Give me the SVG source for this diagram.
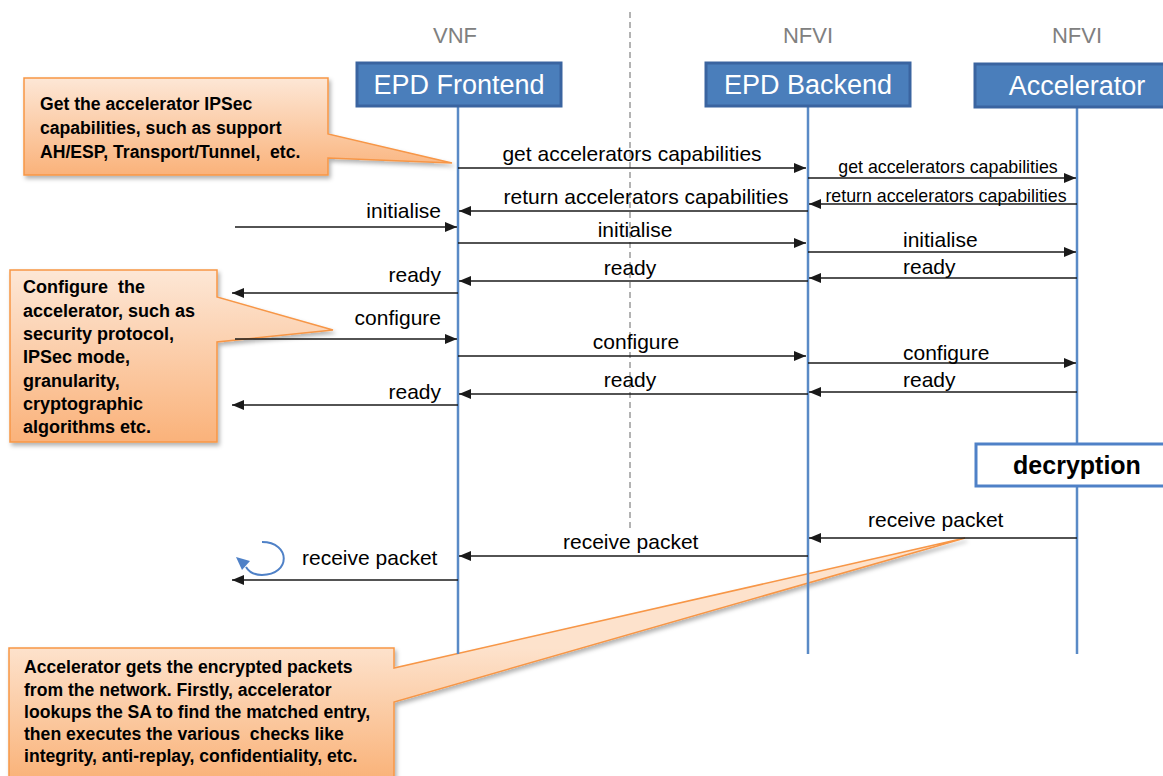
<svg xmlns="http://www.w3.org/2000/svg" width="1163" height="776" viewBox="0 0 1163 776">
  <defs>
    <style>
      .actor { fill: #4a7ebb; stroke: #3a64a0; stroke-width: 3; }
      .actor-label { font-family: "Liberation Sans", Arial, sans-serif; font-size: 27px; fill: #ffffff; text-anchor: middle; }
      .domain { font-family: "Liberation Sans", Arial, sans-serif; font-size: 22px; fill: #808080; text-anchor: middle; }
      .lifeline { stroke: #5a8ac6; stroke-width: 2.5; fill: none; }
      .msg { stroke: #1a1a1a; stroke-width: 1.6; fill: none; marker-end: url(#arrow); }
      .lbl { font-family: "Liberation Sans", Arial, sans-serif; font-size: 21px; fill: #000000; }
      .lbl-s { font-family: "Liberation Sans", Arial, sans-serif; font-size: 17.8px; fill: #000000; }
      .mid { text-anchor: middle; }
      .end { text-anchor: end; }
      .note { stroke: #f79646; stroke-width: 1.5; filter: url(#shadow); }
      .note-text { font-family: "Liberation Sans", Arial, sans-serif; font-size: 17.6px; font-weight: bold; fill: #000000; white-space: pre; }
      .note-text-l { font-family: "Liberation Sans", Arial, sans-serif; font-size: 18px; font-weight: bold; fill: #000000; white-space: pre; }
    </style>
    <marker id="arrow" viewBox="0 0 12 10" refX="12" refY="5" markerWidth="12" markerHeight="10" markerUnits="userSpaceOnUse" orient="auto">
      <path d="M0,0 L12,5 L0,10 Z" fill="#1a1a1a"/>
    </marker>
    <linearGradient id="noteFill" x1="0" y1="0" x2="0" y2="1">
      <stop offset="0" stop-color="#fde7d6"/>
      <stop offset="1" stop-color="#fab27a"/>
    </linearGradient>
    <linearGradient id="noteFill3" gradientUnits="userSpaceOnUse" x1="0" y1="648" x2="0" y2="800">
      <stop offset="0" stop-color="#fde2cc"/>
      <stop offset="1" stop-color="#f9ab6c"/>
    </linearGradient>
    <filter id="shadow" x="-10%" y="-10%" width="130%" height="130%">
      <feDropShadow dx="2" dy="3" stdDeviation="2" flood-color="#000000" flood-opacity="0.3"/>
    </filter>
  </defs>

  <rect x="0" y="0" width="1163" height="776" fill="#ffffff"/>

  <!-- VNF / NFVI boundary -->
  <line x1="630" y1="12" x2="630" y2="530" stroke="#9a9a9a" stroke-width="1.5" stroke-dasharray="6,4"/>

  <!-- domain captions -->
  <text class="domain" x="455" y="43">VNF</text>
  <text class="domain" x="808" y="43">NFVI</text>
  <text class="domain" x="1077" y="43">NFVI</text>

  <!-- callout notes -->
  <g id="note-capabilities">
    <path class="note" fill="url(#noteFill)" d="M24,78 H328 V134 L452,163 L328,158 V175 H24 Z"/>
    <text class="note-text" x="40" y="110">Get the accelerator IPSec</text>
    <text class="note-text" x="40" y="134">capabilities, such as support</text>
    <text class="note-text" x="40" y="158">AH/ESP, Transport/Tunnel,  etc.</text>
  </g>
  <g id="note-configure">
    <path class="note" fill="url(#noteFill)" d="M10,270 H217 V297 L333,330 L217,342 V442 H10 Z"/>
    <text class="note-text-l" x="23" y="293">Configure  the</text>
    <text class="note-text-l" x="23" y="317">accelerator, such as</text>
    <text class="note-text-l" x="23" y="340">security protocol,</text>
    <text class="note-text-l" x="23" y="363">IPSec mode,</text>
    <text class="note-text-l" x="23" y="387">granularity,</text>
    <text class="note-text-l" x="23" y="410">cryptographic</text>
    <text class="note-text-l" x="23" y="433">algorithms etc.</text>
  </g>
  <g id="note-decrypt">
    <path class="note" fill="url(#noteFill3)" d="M9,648 H394 V668 L965,538 L394,702 V790 H9 Z"/>
    <text class="note-text" x="24" y="673">Accelerator gets the encrypted packets</text>
    <text class="note-text" x="24" y="696">from the network. Firstly, accelerator</text>
    <text class="note-text" x="24" y="718">lookups the SA to find the matched entry,</text>
    <text class="note-text" x="24" y="740">then executes the various  checks like</text>
    <text class="note-text" x="24" y="762">integrity, anti-replay, confidentiality, etc.</text>
  </g>

  <!-- participants with lifelines -->
  <g id="epd-frontend">
    <line class="lifeline" x1="458" y1="106" x2="458" y2="654"/>
    <rect class="actor" x="357" y="63" width="204" height="43"/>
    <text class="actor-label" x="459" y="94">EPD Frontend</text>
  </g>
  <g id="epd-backend">
    <line class="lifeline" x1="808" y1="106" x2="808" y2="654"/>
    <rect class="actor" x="706" y="63" width="204" height="43"/>
    <text class="actor-label" x="808" y="94">EPD Backend</text>
  </g>
  <g id="accelerator">
    <line class="lifeline" x1="1077" y1="107" x2="1077" y2="654"/>
    <rect class="actor" x="975" y="64" width="195" height="43"/>
    <text class="actor-label" x="1077" y="95">Accelerator</text>
  </g>
  <g id="decryption">
    <rect x="976" y="444" width="195" height="42" fill="#ffffff" stroke="#4f81c7" stroke-width="3"/>
    <text x="1077" y="474" font-family="'Liberation Sans', Arial, sans-serif" font-size="25" font-weight="bold" fill="#000000" text-anchor="middle">decryption</text>
  </g>

  <!-- messages -->
  <g id="connectors">
    <line class="msg" x1="458" y1="168" x2="806" y2="168"/>
    <line class="msg" x1="808" y1="178" x2="1076" y2="178"/>
    <line class="msg" x1="1077" y1="204" x2="809" y2="204"/>
    <line class="msg" x1="808" y1="211" x2="459" y2="211"/>
    <line class="msg" x1="235" y1="227" x2="457" y2="227"/>
    <line class="msg" x1="458" y1="243" x2="806" y2="243"/>
    <line class="msg" x1="808" y1="252" x2="1076" y2="252"/>
    <line class="msg" x1="1077" y1="278" x2="809" y2="278"/>
    <line class="msg" x1="808" y1="281" x2="459" y2="281"/>
    <line class="msg" x1="458" y1="293" x2="232" y2="293"/>
    <line class="msg" x1="235" y1="339" x2="457" y2="339"/>
    <line class="msg" x1="458" y1="356" x2="806" y2="356"/>
    <line class="msg" x1="808" y1="363" x2="1076" y2="363"/>
    <line class="msg" x1="1077" y1="392" x2="809" y2="392"/>
    <line class="msg" x1="808" y1="394" x2="459" y2="394"/>
    <line class="msg" x1="458" y1="405" x2="232" y2="405"/>
    <line class="msg" x1="1077" y1="538" x2="809" y2="538"/>
    <line class="msg" x1="808" y1="556" x2="459" y2="556"/>
    <line class="msg" x1="458" y1="580" x2="232" y2="580"/>

    <!-- local packet handling loop -->
    <path d="M262,542 C291,542 291,575 262,575 C255,575 249,572 246,567" fill="none" stroke="#4f81c7" stroke-width="2"/>
    <polygon points="236,557 250,561 242,570" fill="#4f81c7"/>

    <text class="lbl mid" x="632" y="161">get accelerators capabilities</text>
    <text class="lbl-s mid" x="948" y="173">get accelerators capabilities</text>
    <text class="lbl-s mid" x="946" y="202">return accelerators capabilities</text>
    <text class="lbl mid" x="646" y="204">return accelerators capabilities</text>
    <text class="lbl end" x="441" y="218">initialise</text>
    <text class="lbl mid" x="635" y="237">initialise</text>
    <text class="lbl" x="903" y="247">initialise</text>
    <text class="lbl" x="903" y="274">ready</text>
    <text class="lbl mid" x="630" y="275">ready</text>
    <text class="lbl end" x="441" y="282">ready</text>
    <text class="lbl end" x="441" y="325">configure</text>
    <text class="lbl mid" x="636" y="349">configure</text>
    <text class="lbl" x="903" y="360">configure</text>
    <text class="lbl" x="903" y="387">ready</text>
    <text class="lbl mid" x="630" y="387">ready</text>
    <text class="lbl end" x="441" y="399">ready</text>
    <text class="lbl" x="868" y="527">receive packet</text>
    <text class="lbl" x="563" y="549">receive packet</text>
    <text class="lbl" x="302" y="565">receive packet</text>
  </g>
</svg>
